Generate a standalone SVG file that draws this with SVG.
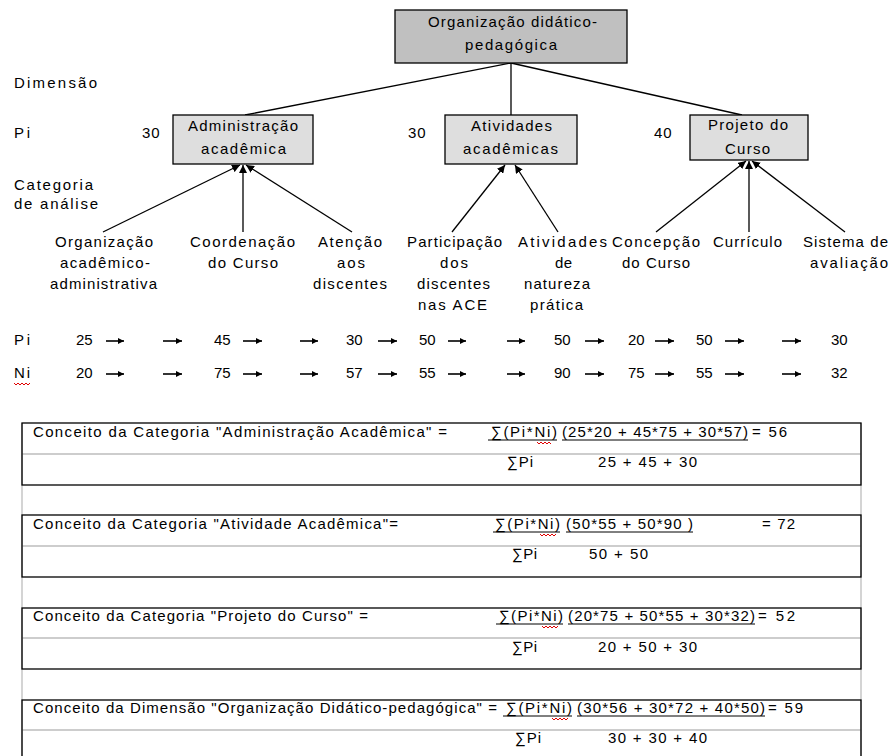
<svg xmlns="http://www.w3.org/2000/svg" width="889" height="756" viewBox="0 0 889 756">
<style>
text{font-family:"Liberation Sans",Arial,sans-serif;font-size:15px;fill:#000}
.num{letter-spacing:1px}
.box{stroke:#000;stroke-width:1.3}
.dark{fill:#c0c0c0}
.light{fill:#dedede}
.con{stroke:#000;stroke-width:1.3;fill:none}
.ra{stroke:#000;stroke-width:1.6;fill:none}
.tb{fill:none;stroke:#000;stroke-width:1.3}
.gl{stroke:#bdbdbd;stroke-width:1.3}
.ul{stroke:#000;stroke-width:1}
.wv{stroke:#e00000;stroke-width:1;fill:none}
</style>
<defs>
<marker id="ah" viewBox="0 0 10 10" refX="10" refY="5" markerWidth="8" markerHeight="8" markerUnits="userSpaceOnUse" orient="auto"><path d="M0,0 L10,5 L0,10 z" fill="#000"/></marker>
<marker id="sa" viewBox="0 0 10 10" refX="10" refY="5" markerWidth="7" markerHeight="6" markerUnits="userSpaceOnUse" orient="auto"><path d="M0,0 L10,5 L0,10 z" fill="#000"/></marker>
</defs>
<rect width="889" height="756" fill="#fff"/>

<g id="row-labels">
<text x="14" y="88" textLength="83" lengthAdjust="spacing">Dimensão</text>
<text x="14" y="138" textLength="16" lengthAdjust="spacing">Pi</text>
<text x="14" y="190" textLength="79" lengthAdjust="spacing">Categoria</text>
<text x="14" y="209" textLength="84" lengthAdjust="spacing">de análise</text>
</g>

<g id="connectors">
<line class="con" x1="511" y1="63" x2="245" y2="115"/>
<line class="con" x1="511" y1="63" x2="511" y2="115"/>
<line class="con" x1="511" y1="63" x2="742" y2="115"/>
<line class="con" x1="103" y1="232" x2="240" y2="165" marker-end="url(#ah)"/>
<line class="con" x1="243" y1="232" x2="243" y2="165" marker-end="url(#ah)"/>
<line class="con" x1="352" y1="232" x2="246" y2="165" marker-end="url(#ah)"/>
<line class="con" x1="452" y1="232" x2="505" y2="165" marker-end="url(#ah)"/>
<line class="con" x1="558" y1="232" x2="515" y2="165" marker-end="url(#ah)"/>
<line class="con" x1="656" y1="232" x2="746" y2="161" marker-end="url(#ah)"/>
<line class="con" x1="749" y1="232" x2="749" y2="161" marker-end="url(#ah)"/>
<line class="con" x1="845" y1="232" x2="752" y2="161" marker-end="url(#ah)"/>
</g>

<g id="node-dimensao">
<rect class="box dark" x="395" y="10" width="232" height="53"/>
<text x="428" y="27" textLength="169" lengthAdjust="spacing">Organização didático-</text>
<text x="465" y="50" textLength="92" lengthAdjust="spacing">pedagógica</text>
</g>

<g id="node-admin">
<text class="num" x="142" y="138">30</text>
<rect class="box light" x="173" y="115" width="140" height="49"/>
<text x="188" y="131" textLength="110" lengthAdjust="spacing">Administração</text>
<text x="201" y="154" textLength="85" lengthAdjust="spacing">acadêmica</text>
</g>

<g id="node-atividades">
<text class="num" x="408" y="138">30</text>
<rect class="box light" x="445" y="115" width="132" height="49"/>
<text x="471" y="131" textLength="81" lengthAdjust="spacing">Atividades</text>
<text x="463" y="154" textLength="95" lengthAdjust="spacing">acadêmicas</text>
</g>

<g id="node-projeto">
<text class="num" x="654" y="138">40</text>
<rect class="box light" x="690" y="115" width="118" height="45"/>
<text x="708" y="130" textLength="80" lengthAdjust="spacing">Projeto do</text>
<text x="725" y="154" textLength="45" lengthAdjust="spacing">Curso</text>
</g>

<g id="leaf-org-acad">
<text x="55" y="247" textLength="98" lengthAdjust="spacing">Organização</text>
<text x="60" y="268" textLength="90" lengthAdjust="spacing">acadêmico-</text>
<text x="50" y="289" textLength="107" lengthAdjust="spacing">administrativa</text>
</g>
<g id="leaf-coord">
<text x="190" y="247" textLength="105" lengthAdjust="spacing">Coordenação</text>
<text x="208" y="268" textLength="70" lengthAdjust="spacing">do Curso</text>
</g>
<g id="leaf-atencao">
<text x="318" y="247" textLength="64" lengthAdjust="spacing">Atenção</text>
<text x="337" y="268" textLength="28" lengthAdjust="spacing">aos</text>
<text x="313" y="289" textLength="74" lengthAdjust="spacing">discentes</text>
</g>
<g id="leaf-particip">
<text x="407" y="247" textLength="95" lengthAdjust="spacing">Participação</text>
<text x="440" y="268" textLength="28" lengthAdjust="spacing">dos</text>
<text x="417" y="289" textLength="73" lengthAdjust="spacing">discentes</text>
<text x="418" y="310" textLength="69" lengthAdjust="spacing">nas ACE</text>
</g>
<g id="leaf-ativ-pratica">
<text x="518" y="247" textLength="89" lengthAdjust="spacing">Atividades</text>
<text x="555" y="268" textLength="17" lengthAdjust="spacing">de</text>
<text x="524" y="289" textLength="66" lengthAdjust="spacing">natureza</text>
<text x="530" y="310" textLength="53" lengthAdjust="spacing">prática</text>
</g>
<g id="leaf-concepcao">
<text x="612" y="247" textLength="88" lengthAdjust="spacing">Concepção</text>
<text x="622" y="268" textLength="68" lengthAdjust="spacing">do Curso</text>
</g>
<g id="leaf-curriculo">
<text x="713" y="247" textLength="69" lengthAdjust="spacing">Currículo</text>
</g>
<g id="leaf-sistema">
<text x="803" y="247" textLength="85" lengthAdjust="spacing">Sistema de</text>
<text x="810" y="268" textLength="78" lengthAdjust="spacing">avaliação</text>
</g>

<g id="pi-ni-rows">
<text x="14" y="345" textLength="16" lengthAdjust="spacing">Pi</text>
<text x="14" y="378" textLength="16" lengthAdjust="spacing">Ni</text>
<path class="wv" d="M14,383 l2,2 l2,-2 l2,2 l2,-2 l2,2 l2,-2 l2,2 l2,-2"/>
<g>
<text x="76" y="345">25</text><text x="214" y="345">45</text><text x="346" y="345">30</text><text x="419" y="345">50</text><text x="554" y="345">50</text><text x="628" y="345">20</text><text x="696" y="345">50</text><text x="831" y="345">30</text>
<text x="76" y="378">20</text><text x="214" y="378">75</text><text x="346" y="378">57</text><text x="419" y="378">55</text><text x="554" y="378">90</text><text x="628" y="378">75</text><text x="696" y="378">55</text><text x="831" y="378">32</text>
</g>
<g>
<line class="ra" x1="106" y1="341" x2="124" y2="341" marker-end="url(#sa)"/>
<line class="ra" x1="163" y1="341" x2="182" y2="341" marker-end="url(#sa)"/>
<line class="ra" x1="243" y1="341" x2="262" y2="341" marker-end="url(#sa)"/>
<line class="ra" x1="300" y1="341" x2="318" y2="341" marker-end="url(#sa)"/>
<line class="ra" x1="378" y1="341" x2="397" y2="341" marker-end="url(#sa)"/>
<line class="ra" x1="448" y1="341" x2="466" y2="341" marker-end="url(#sa)"/>
<line class="ra" x1="507" y1="341" x2="525" y2="341" marker-end="url(#sa)"/>
<line class="ra" x1="585" y1="341" x2="604" y2="341" marker-end="url(#sa)"/>
<line class="ra" x1="655" y1="341" x2="674" y2="341" marker-end="url(#sa)"/>
<line class="ra" x1="725" y1="341" x2="744" y2="341" marker-end="url(#sa)"/>
<line class="ra" x1="782" y1="341" x2="801" y2="341" marker-end="url(#sa)"/>
<line class="ra" x1="106" y1="374" x2="124" y2="374" marker-end="url(#sa)"/>
<line class="ra" x1="163" y1="374" x2="182" y2="374" marker-end="url(#sa)"/>
<line class="ra" x1="243" y1="374" x2="262" y2="374" marker-end="url(#sa)"/>
<line class="ra" x1="300" y1="374" x2="318" y2="374" marker-end="url(#sa)"/>
<line class="ra" x1="378" y1="374" x2="397" y2="374" marker-end="url(#sa)"/>
<line class="ra" x1="448" y1="374" x2="466" y2="374" marker-end="url(#sa)"/>
<line class="ra" x1="507" y1="374" x2="525" y2="374" marker-end="url(#sa)"/>
<line class="ra" x1="585" y1="374" x2="604" y2="374" marker-end="url(#sa)"/>
<line class="ra" x1="655" y1="374" x2="674" y2="374" marker-end="url(#sa)"/>
<line class="ra" x1="725" y1="374" x2="744" y2="374" marker-end="url(#sa)"/>
<line class="ra" x1="782" y1="374" x2="801" y2="374" marker-end="url(#sa)"/>
</g>
</g>

<g id="formula-table">
<line class="gl" x1="22" y1="423" x2="22" y2="756"/>
<line class="gl" x1="861" y1="423" x2="861" y2="756"/>
<line class="gl" x1="22" y1="454" x2="861" y2="454"/>
<line class="gl" x1="22" y1="546" x2="861" y2="546"/>
<line class="gl" x1="22" y1="638" x2="861" y2="638"/>
<line class="gl" x1="22" y1="730" x2="861" y2="730"/>
<rect class="tb" x="22" y="423" width="839" height="62"/>
<rect class="tb" x="22" y="515" width="839" height="62"/>
<rect class="tb" x="22" y="608" width="839" height="61"/>
<rect class="tb" x="22" y="700" width="839" height="70"/>

<text x="33" y="437" textLength="414" lengthAdjust="spacing">Conceito da Categoria "Administração Acadêmica" =</text>
<text x="491" y="437" textLength="66" lengthAdjust="spacing">∑(Pi*Ni)</text>
<text x="562" y="437" textLength="186" lengthAdjust="spacing">(25*20 + 45*75 + 30*57)</text>
<text x="752" y="437" textLength="35" lengthAdjust="spacing">= 56</text>
<line class="ul" x1="488" y1="440" x2="557" y2="440"/>
<line class="ul" x1="562" y1="440" x2="748" y2="440"/>
<path class="wv" d="M537,442 l2,2 l2,-2 l2,2 l2,-2 l2,2 l2,-2 l2,2"/>
<text x="507" y="467" textLength="26" lengthAdjust="spacing">∑Pi</text>
<text x="598" y="467" textLength="99" lengthAdjust="spacing">25 + 45 + 30</text>

<text x="33" y="529" textLength="365" lengthAdjust="spacing">Conceito da Categoria "Atividade Acadêmica"=</text>
<text x="495" y="529" textLength="65" lengthAdjust="spacing">∑(Pi*Ni)</text>
<text x="566" y="529" textLength="127" lengthAdjust="spacing">(50*55 + 50*90 )</text>
<text x="762" y="529" textLength="33" lengthAdjust="spacing">= 72</text>
<line class="ul" x1="493" y1="532" x2="560" y2="532"/>
<line class="ul" x1="566" y1="532" x2="693" y2="532"/>
<path class="wv" d="M540,534 l2,2 l2,-2 l2,2 l2,-2 l2,2 l2,-2 l2,2 l2,-2"/>
<text x="512" y="559" textLength="25" lengthAdjust="spacing">∑Pi</text>
<text x="589" y="559" textLength="59" lengthAdjust="spacing">50 + 50</text>

<text x="33" y="621" textLength="335" lengthAdjust="spacing">Conceito da Categoria "Projeto do Curso" =</text>
<text x="499" y="621" textLength="64" lengthAdjust="spacing">∑(Pi*Ni)</text>
<text x="568" y="621" textLength="187" lengthAdjust="spacing">(20*75 + 50*55 + 30*32)</text>
<text x="758" y="621" textLength="37" lengthAdjust="spacing">= 52</text>
<line class="ul" x1="496" y1="624" x2="563" y2="624"/>
<line class="ul" x1="568" y1="624" x2="755" y2="624"/>
<path class="wv" d="M542,626 l2,2 l2,-2 l2,2 l2,-2 l2,2 l2,-2 l2,2 l2,-2"/>
<text x="512" y="652" textLength="25" lengthAdjust="spacing">∑Pi</text>
<text x="598" y="652" textLength="99" lengthAdjust="spacing">20 + 50 + 30</text>

<text x="33" y="713" textLength="464" lengthAdjust="spacing">Conceito da Dimensão "Organização Didático-pedagógica" =</text>
<text x="506" y="713" textLength="66" lengthAdjust="spacing">∑(Pi*Ni)</text>
<text x="577" y="713" textLength="188" lengthAdjust="spacing">(30*56 + 30*72 + 40*50)</text>
<text x="768" y="713" textLength="35" lengthAdjust="spacing">= 59</text>
<line class="ul" x1="503" y1="716" x2="572" y2="716"/>
<line class="ul" x1="577" y1="716" x2="765" y2="716"/>
<path class="wv" d="M552,718 l2,2 l2,-2 l2,2 l2,-2 l2,2 l2,-2 l2,2 l2,-2"/>
<text x="515" y="743" textLength="26" lengthAdjust="spacing">∑Pi</text>
<text x="608" y="743" textLength="99" lengthAdjust="spacing">30 + 30 + 40</text>
</g>
</svg>
